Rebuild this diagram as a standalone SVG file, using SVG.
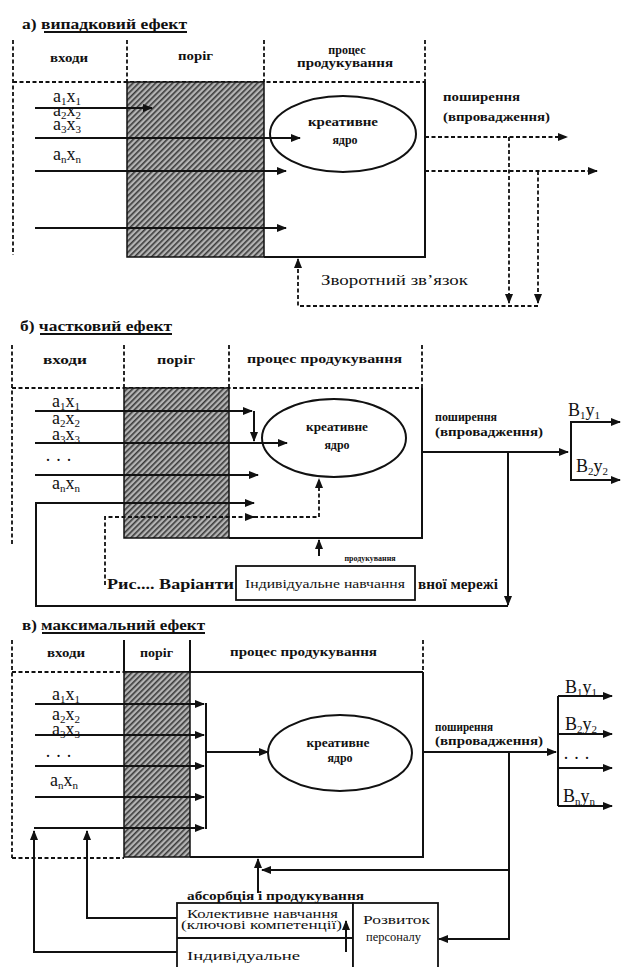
<svg xmlns="http://www.w3.org/2000/svg" width="623" height="967" viewBox="0 0 623 967">
<style>
.ln{stroke:#111;stroke-width:2;fill:none}
.ds{stroke:#111;stroke-width:1.8;fill:none;stroke-dasharray:4 2.5}
.el{stroke:#111;stroke-width:2;fill:#fff}
.t{font-family:"Liberation Serif","Times New Roman",serif;fill:#111}
.h{font-size:12px;font-weight:bold}
.ti{font-size:15px;font-weight:bold}
.lb{font-size:18px}
.s{font-size:11px}
.bx{font-size:12px}
</style>
<defs>
<marker id="ah" viewBox="0 0 10 8" refX="9" refY="4" markerWidth="10" markerHeight="8" markerUnits="userSpaceOnUse" orient="auto"><path d="M0,0 L10,4 L0,8 Z" fill="#111"/></marker>
<pattern id="hatch" patternUnits="userSpaceOnUse" width="4" height="4" patternTransform="rotate(45)">
<rect width="4" height="4" fill="#b4b4b4"/>
<rect width="1.6" height="4" fill="#3a3a3a"/>
</pattern>
</defs>
<rect width="623" height="967" fill="#fff"/>

<!-- ============ SECTION A ============ -->
<g id="a-title">
<text class="t ti" x="22" y="29" textLength="165" lengthAdjust="spacingAndGlyphs">а) випадковий ефект</text>
<line class="ln" x1="44" y1="32" x2="187" y2="32" stroke-width="1.2"/>
</g>
<g id="a-frame">
<line class="ds" x1="13" y1="40" x2="13" y2="255"/>
<line class="ds" x1="127" y1="40" x2="127" y2="82"/>
<line class="ds" x1="264" y1="40" x2="264" y2="82"/>
<line class="ds" x1="425" y1="40" x2="425" y2="82"/>
<line class="ds" x1="13" y1="82" x2="425" y2="82"/>
<text class="t h" x="50" y="62" textLength="38" lengthAdjust="spacingAndGlyphs">входи</text>
<text class="t h" x="178" y="60" textLength="35" lengthAdjust="spacingAndGlyphs">поріг</text>
<text class="t h" x="347" y="54" text-anchor="middle">процес</text>
<text class="t h" x="297" y="67" textLength="96" lengthAdjust="spacingAndGlyphs">продукування</text>
</g>
<g id="a-threshold"><rect x="127" y="82" width="137" height="175" fill="url(#hatch)" stroke="#111" stroke-width="1.5"/></g>
<g id="a-process"><path class="ln" d="M264,257 H425 V82"/></g>
<g id="a-core">
<ellipse class="el" cx="343" cy="134" rx="73" ry="38"/>
<text class="t h" x="343" y="126" text-anchor="middle" textLength="70" lengthAdjust="spacingAndGlyphs">креативне</text>
<text class="t h" x="345" y="144" text-anchor="middle">ядро</text>
</g>
<g id="a-inputs">
<text class="t lb" x="53" y="102">a<tspan class="s" dy="3">1</tspan><tspan dy="-3">x</tspan><tspan class="s" dy="3">1</tspan></text>
<text class="t lb" x="53" y="116">a<tspan class="s" dy="3">2</tspan><tspan dy="-3">x</tspan><tspan class="s" dy="3">2</tspan></text>
<text class="t lb" x="53" y="130">a<tspan class="s" dy="3">3</tspan><tspan dy="-3">x</tspan><tspan class="s" dy="3">3</tspan></text>
<text class="t lb" x="53" y="160">a<tspan class="s" dy="3">n</tspan><tspan dy="-3">x</tspan><tspan class="s" dy="3">n</tspan></text>
</g>
<g id="a-diffusion">
<text class="t h" x="443" y="101" textLength="77" lengthAdjust="spacingAndGlyphs">поширення</text>
<text class="t h" x="443" y="121" textLength="107" lengthAdjust="spacingAndGlyphs">(впровадження)</text>
</g>
<g id="a-feedback-label">
<text class="t" x="321" y="285" font-size="15" textLength="147" lengthAdjust="spacingAndGlyphs">Зворотний зв’язок</text>
</g>
<g id="a-connectors">
<line class="ln" x1="35" y1="108" x2="152" y2="108" marker-end="url(#ah)"/>
<line class="ln" x1="35" y1="138" x2="300" y2="138" marker-end="url(#ah)"/>
<line class="ln" x1="35" y1="171" x2="286" y2="171" marker-end="url(#ah)"/>
<line class="ln" x1="35" y1="228" x2="286" y2="228" marker-end="url(#ah)"/>
<line class="ds" x1="425" y1="137" x2="567" y2="137" marker-end="url(#ah)"/>
<line class="ds" x1="425" y1="171" x2="597" y2="171" marker-end="url(#ah)"/>
<line class="ds" x1="509" y1="137" x2="509" y2="303" marker-end="url(#ah)"/>
<line class="ds" x1="538" y1="171" x2="538" y2="303" marker-end="url(#ah)"/>
<path class="ds" d="M538,306 H298 V259" marker-end="url(#ah)"/>
</g>

<!-- ============ SECTION B ============ -->
<g id="b-title">
<text class="t ti" x="20" y="331" textLength="152" lengthAdjust="spacingAndGlyphs">б) частковий ефект</text>
<line class="ln" x1="40" y1="334" x2="172" y2="334" stroke-width="1.2"/>
</g>
<g id="b-frame">
<line class="ds" x1="12" y1="345" x2="12" y2="545"/>
<line class="ds" x1="124" y1="345" x2="124" y2="388"/>
<line class="ds" x1="229" y1="345" x2="229" y2="388"/>
<line class="ds" x1="422" y1="345" x2="422" y2="388"/>
<line class="ds" x1="12" y1="388" x2="422" y2="388"/>
<text class="t h" x="43" y="364" textLength="44" lengthAdjust="spacingAndGlyphs">входи</text>
<text class="t h" x="157" y="364" textLength="38" lengthAdjust="spacingAndGlyphs">поріг</text>
<text class="t h" x="247" y="363" textLength="155" lengthAdjust="spacingAndGlyphs">процес продукування</text>
</g>
<g id="b-threshold"><rect x="124" y="388" width="105" height="150" fill="url(#hatch)" stroke="#111" stroke-width="1.5"/></g>
<g id="b-process"><path class="ln" d="M229,538 H422 V388"/></g>
<g id="b-core">
<ellipse class="el" cx="334" cy="438" rx="72" ry="39"/>
<text class="t h" x="337" y="431" text-anchor="middle" textLength="62" lengthAdjust="spacingAndGlyphs">креативне</text>
<text class="t h" x="337" y="449" text-anchor="middle">ядро</text>
</g>
<g id="b-inputs">
<text class="t lb" x="52" y="407">a<tspan class="s" dy="3">1</tspan><tspan dy="-3">x</tspan><tspan class="s" dy="3">1</tspan></text>
<text class="t lb" x="52" y="424">a<tspan class="s" dy="3">2</tspan><tspan dy="-3">x</tspan><tspan class="s" dy="3">2</tspan></text>
<text class="t lb" x="52" y="440">a<tspan class="s" dy="3">3</tspan><tspan dy="-3">x</tspan><tspan class="s" dy="3">3</tspan></text>
<text class="t lb" x="45" y="466">·  ·  ·</text>
<text class="t lb" x="52" y="489">a<tspan class="s" dy="3">n</tspan><tspan dy="-3">x</tspan><tspan class="s" dy="3">n</tspan></text>
</g>
<g id="b-diffusion">
<text class="t h" x="435" y="421" textLength="62" lengthAdjust="spacingAndGlyphs">поширення</text>
<text class="t h" x="435" y="436" textLength="108" lengthAdjust="spacingAndGlyphs">(впровадження)</text>
</g>
<g id="b-outputs">
<text class="t lb" x="568" y="416">B<tspan class="s" dy="3">1</tspan><tspan dy="-3">y</tspan><tspan class="s" dy="3">1</tspan></text>
<text class="t lb" x="576" y="472">B<tspan class="s" dy="3">2</tspan><tspan dy="-3">y</tspan><tspan class="s" dy="3">2</tspan></text>
</g>
<g id="b-caption">
<text class="t" x="370" y="561" font-size="8" font-weight="bold" text-anchor="middle">продукування</text>
<text class="t" x="107" y="589" font-size="15" font-weight="bold" textLength="127" lengthAdjust="spacingAndGlyphs">Рис.... Варіанти</text>
<text class="t" x="418" y="589" font-size="15" font-weight="bold" textLength="80" lengthAdjust="spacingAndGlyphs">вної мережі</text>
</g>
<g id="b-individual">
<rect x="236" y="566" width="179" height="34" fill="#fff" stroke="#111" stroke-width="1.8"/>
<text class="t" x="325" y="588" font-size="13" text-anchor="middle" textLength="160" lengthAdjust="spacingAndGlyphs">Індивідуальне навчання</text>
</g>
<g id="b-connectors">
<path class="ln" d="M35,411 H252" marker-end="url(#ah)"/>
<path class="ln" d="M254,411 V441" marker-end="url(#ah)"/>
<line class="ln" x1="35" y1="443" x2="287" y2="443" marker-end="url(#ah)"/>
<line class="ln" x1="35" y1="475" x2="258" y2="475" marker-end="url(#ah)"/>
<path class="ln" d="M508,606 H36 V503 H254" marker-end="url(#ah)"/>
<line class="ln" x1="508" y1="452" x2="508" y2="605" marker-end="url(#ah)"/>
<path class="ds" d="M105,585 V517 H254" marker-end="url(#ah)"/>
<path class="ds" d="M254,517 H319 V479" marker-end="url(#ah)"/>
<line class="ln" x1="319" y1="556" x2="319" y2="540" marker-end="url(#ah)"/>
<line class="ln" x1="422" y1="452" x2="568" y2="452" marker-end="url(#ah)"/>
<path class="ln" d="M571,452 V422 H620" marker-end="url(#ah)"/>
<path class="ln" d="M571,452 V480 H620" marker-end="url(#ah)"/>
</g>

<!-- ============ SECTION C ============ -->
<g id="c-title">
<text class="t ti" x="22" y="630" textLength="183" lengthAdjust="spacingAndGlyphs">в) максимальний ефект</text>
<line class="ln" x1="42" y1="633" x2="205" y2="633" stroke-width="1.2"/>
</g>
<g id="c-frame">
<line class="ds" x1="12" y1="640" x2="12" y2="858"/>
<line class="ds" x1="12" y1="858" x2="124" y2="858"/>
<line class="ln" x1="124" y1="640" x2="124" y2="672" stroke-width="1.5"/>
<line class="ln" x1="190" y1="640" x2="190" y2="672" stroke-width="1.5"/>
<line class="ds" x1="423" y1="640" x2="423" y2="672"/>
<line class="ds" x1="12" y1="672" x2="124" y2="672"/>
<line class="ln" x1="124" y1="672" x2="423" y2="672"/>
<text class="t h" x="47" y="657" textLength="38" lengthAdjust="spacingAndGlyphs">входи</text>
<text class="t h" x="140" y="657" textLength="33" lengthAdjust="spacingAndGlyphs">поріг</text>
<text class="t h" x="230" y="656" textLength="147" lengthAdjust="spacingAndGlyphs">процес продукування</text>
</g>
<g id="c-threshold"><rect x="124" y="672" width="66" height="185" fill="url(#hatch)" stroke="#111" stroke-width="1.5"/></g>
<g id="c-process"><path class="ln" d="M190,857 H423 V672"/></g>
<g id="c-core">
<ellipse class="el" cx="340" cy="753" rx="72" ry="38"/>
<text class="t h" x="338" y="747" text-anchor="middle" textLength="63" lengthAdjust="spacingAndGlyphs">креативне</text>
<text class="t h" x="340" y="762" text-anchor="middle">ядро</text>
</g>
<g id="c-inputs">
<text class="t lb" x="52" y="700">a<tspan class="s" dy="3">1</tspan><tspan dy="-3">x</tspan><tspan class="s" dy="3">1</tspan></text>
<text class="t lb" x="52" y="720">a<tspan class="s" dy="3">2</tspan><tspan dy="-3">x</tspan><tspan class="s" dy="3">2</tspan></text>
<text class="t lb" x="52" y="735">a<tspan class="s" dy="3">3</tspan><tspan dy="-3">x</tspan><tspan class="s" dy="3">3</tspan></text>
<text class="t lb" x="45" y="762">·  ·  ·</text>
<text class="t lb" x="50" y="786">a<tspan class="s" dy="3">n</tspan><tspan dy="-3">x</tspan><tspan class="s" dy="3">n</tspan></text>
</g>
<g id="c-diffusion">
<text class="t h" x="435" y="731" textLength="58" lengthAdjust="spacingAndGlyphs">поширення</text>
<text class="t h" x="435" y="745" textLength="108" lengthAdjust="spacingAndGlyphs">(впровадження)</text>
</g>
<g id="c-outputs">
<text class="t lb" x="565" y="693">B<tspan class="s" dy="3">1</tspan><tspan dy="-3">y</tspan><tspan class="s" dy="3">1</tspan></text>
<text class="t lb" x="565" y="730">B<tspan class="s" dy="3">2</tspan><tspan dy="-3">y</tspan><tspan class="s" dy="3">2</tspan></text>
<text class="t lb" x="563" y="764">·  ·  ·</text>
<text class="t lb" x="563" y="802">B<tspan class="s" dy="3">n</tspan><tspan dy="-3">y</tspan><tspan class="s" dy="3">n</tspan></text>
</g>
<g id="c-absorption">
<text class="t" x="187" y="900" font-size="13" font-weight="bold" textLength="177" lengthAdjust="spacingAndGlyphs">абсорбція і продукування</text>
</g>
<g id="c-learning">
<rect x="177" y="903" width="176" height="70" fill="#fff" stroke="#111" stroke-width="1.8"/>
<line class="ln" x1="177" y1="938" x2="353" y2="938" stroke-width="1.5"/>
<text class="t bx" x="187" y="918" textLength="151" lengthAdjust="spacingAndGlyphs">Колективне навчання</text>
<text class="t bx" x="181" y="929" textLength="161" lengthAdjust="spacingAndGlyphs">(ключові компетенції)</text>
<text class="t bx" x="187" y="960" textLength="113" lengthAdjust="spacingAndGlyphs">Індивідуальне</text>
</g>
<g id="c-staff">
<rect x="353" y="903" width="85" height="70" fill="#fff" stroke="#111" stroke-width="1.8"/>
<text class="t bx" x="363" y="924" textLength="67" lengthAdjust="spacingAndGlyphs">Розвиток</text>
<text class="t bx" x="366" y="941" textLength="55" lengthAdjust="spacingAndGlyphs">персоналу</text>
</g>
<g id="c-connectors">
<line class="ln" x1="35" y1="704" x2="204" y2="704" marker-end="url(#ah)"/>
<line class="ln" x1="35" y1="735" x2="204" y2="735" marker-end="url(#ah)"/>
<line class="ln" x1="35" y1="766" x2="204" y2="766" marker-end="url(#ah)"/>
<line class="ln" x1="35" y1="797" x2="204" y2="797" marker-end="url(#ah)"/>
<line class="ln" x1="34" y1="828" x2="204" y2="828" marker-end="url(#ah)"/>
<line class="ln" x1="206" y1="703" x2="206" y2="829"/>
<line class="ln" x1="206" y1="752" x2="268" y2="752" marker-end="url(#ah)"/>
<line class="ln" x1="423" y1="752" x2="556" y2="752" marker-end="url(#ah)"/>
<line class="ln" x1="558" y1="696" x2="558" y2="806"/>
<line class="ln" x1="558" y1="696" x2="612" y2="696" marker-end="url(#ah)"/>
<line class="ln" x1="558" y1="734" x2="612" y2="734" marker-end="url(#ah)"/>
<line class="ln" x1="558" y1="768" x2="612" y2="768" marker-end="url(#ah)"/>
<line class="ln" x1="558" y1="806" x2="612" y2="806" marker-end="url(#ah)"/>
<path class="ln" d="M509,752 V939 H439" marker-end="url(#ah)"/>
<path class="ln" d="M509,870 H262" marker-end="url(#ah)"/>
<path class="ln" d="M258,893 V859" marker-end="url(#ah)"/>
<path class="ln" d="M177,952 H34 V831" marker-end="url(#ah)"/>
<path class="ln" d="M177,918 H87 V831" marker-end="url(#ah)"/>
<path class="ln" d="M346,952 V921" marker-end="url(#ah)" stroke-width="1.5"/>
</g>
</svg>
